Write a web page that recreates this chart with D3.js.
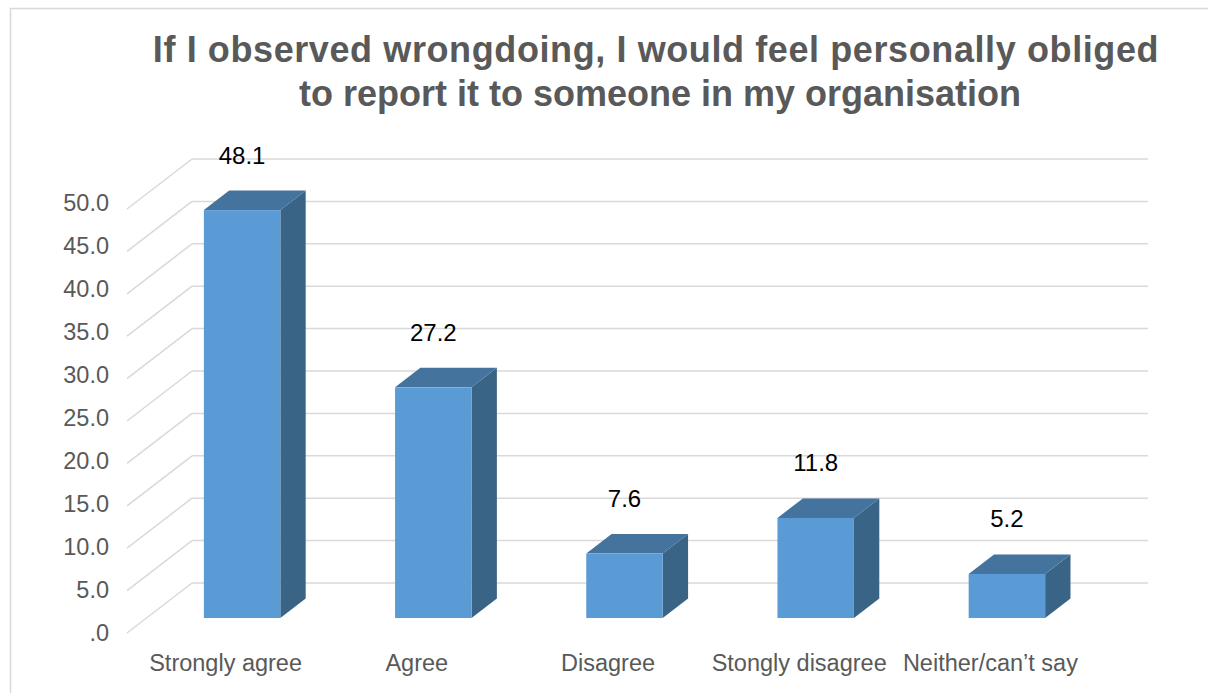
<!DOCTYPE html>
<html>
<head>
<meta charset="utf-8">
<script src="https://cdn.jsdelivr.net/npm/d3@7"></script>
<style>
  html, body { margin: 0; padding: 0; background: #fff; }
  svg { display: block; }
  text { font-family: "Liberation Sans", Arial, sans-serif; }
</style>
</head>
<body>
<script>
// Survey responses (percent)
const categories = ["Strongly agree", "Agree", "Disagree", "Stongly disagree", "Neither/can\u2019t say"];
const values = [48.1, 27.2, 7.6, 11.8, 5.2];
const tickValues = [0, 5, 10, 15, 20, 25, 30, 35, 40, 45, 50];
const titleLines = [
  "If I observed wrongdoing, I would feel personally obliged",
  "to report it to someone in my organisation"
];

const W = 1208, H = 693;
const svg = d3.select("body").append("svg").attr("width", W).attr("height", H);

svg.append("rect").attr("width", W).attr("height", H).attr("fill", "#fff");
// chart area outline
svg.append("rect")
  .attr("x", 10.5).attr("y", 8.5).attr("width", W + 20).attr("height", H + 20)
  .attr("fill", "none").attr("stroke", "#d9d9d9").attr("stroke-width", 1.5);

// front plane scales
const y = d3.scaleLinear().domain([0, 50]).range([633, 209]);
const yLabel = d3.scaleLinear().domain([0, 50]).range([632.5, 203]);
const x = d3.scaleBand().domain(categories).range([127, 1083])
  .paddingInner(0.6).paddingOuter(0.3);

// oblique depth offsets (full floor depth)
const DX = 65, DY = 50;
const P = (px, v, z) => [px + z * DX, y(v) - z * DY];
const Z0 = 0.3, Z1 = 0.69;

// title
svg.append("g").selectAll("text").data(titleLines).join("text")
  .attr("x", (d, i) => i === 0 ? 656 : 660).attr("y", (d, i) => 62 + i * 44)
  .attr("text-anchor", "middle")
  .attr("font-size", 36).attr("font-weight", "bold")
  .attr("letter-spacing", (d, i) => i === 0 ? 0.6 : 0)
  .attr("fill", "#595959")
  .text(d => d);

// walls: back gridlines and side-wall diagonals
const grid = svg.append("g").attr("stroke", "#d9d9d9").attr("stroke-width", 1.5).attr("fill", "none");
const [xL, xR] = x.range();
tickValues.forEach(v => {
  const a = P(xL, v, 1), b = P(xR, v, 1), f = P(xL, v, 0);
  grid.append("line").attr("x1", a[0]).attr("y1", a[1]).attr("x2", b[0]).attr("y2", b[1]);
  grid.append("line").attr("x1", f[0]).attr("y1", f[1]).attr("x2", a[0]).attr("y2", a[1]);
});

// value axis labels
svg.append("g").selectAll("text").data(tickValues).join("text")
  .attr("x", 109).attr("y", d => yLabel(d))
  .attr("dy", "0.35em")
  .attr("text-anchor", "end")
  .attr("font-size", 23.5).attr("fill", "#595959")
  .text(d => d === 0 ? ".0" : d3.format(".1f")(d));

// 3D columns
const bars = svg.append("g");
categories.forEach((c, i) => {
  const v = values[i];
  const x0 = x(c), x1 = x(c) + x.bandwidth();
  const pts = arr => arr.map(p => p.join(",")).join(" ");
  const g = bars.append("g");
  // right side
  g.append("polygon").attr("fill", "#3a6486")
    .attr("points", pts([P(x1, 0, Z0), P(x1, v, Z0), P(x1, v, Z1), P(x1, 0, Z1)]));
  // top
  g.append("polygon").attr("fill", "#44739e")
    .attr("points", pts([P(x0, v, Z0), P(x1, v, Z0), P(x1, v, Z1), P(x0, v, Z1)]));
  // front
  const f0 = P(x0, v, Z0), f1 = P(x1, 0, Z0);
  g.append("rect").attr("fill", "#5b9bd5")
    .attr("x", f0[0]).attr("y", f0[1])
    .attr("width", f1[0] - f0[0]).attr("height", f1[1] - f0[1]);
  // value label
  const tb = P((x0 + x1) / 2, v, Z1);
  g.append("text")
    .attr("x", (x0 + x1) / 2 + Z0 * DX).attr("y", tb[1] - 27)
    .attr("text-anchor", "middle")
    .attr("font-size", 24).attr("fill", "#000")
    .text(d3.format(".1f")(v));
});

// category labels
svg.append("g").selectAll("text").data(categories).join("text")
  .attr("x", d => x(d) + x.bandwidth() / 2 + 3)
  .attr("y", 671)
  .attr("text-anchor", "middle")
  .attr("font-size", 23.5).attr("fill", "#595959")
  .text(d => d);
</script>
</body>
</html>
